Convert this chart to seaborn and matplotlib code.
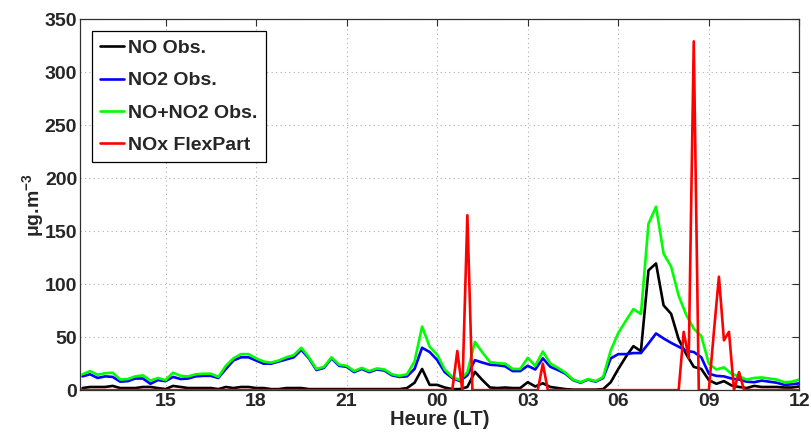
import numpy as np
import pandas as pd
import seaborn as sns
import matplotlib.pyplot as plt

# Observations: pas de 15 min, de 12h15 a 12h00 le lendemain (une ligne = une heure)
no2_obs = [13, 15, 11.5, 13,
           12.5, 8, 8.5, 11,
           11, 6, 9.5, 8.5,
           12.5, 10.5, 11, 13,
           13.5, 13.5, 11.5, 20,
           28, 31, 31, 28,
           25, 25, 27, 29,
           31, 38, 30, 19,
           21, 30, 23, 22,
           17, 20, 17, 19.5,
           18.5, 14, 12.5, 13,
           20, 40, 36, 28.5,
           17, 11.5, 8.5, 14,
           28.3, 26, 24, 23.5,
           22.5, 18, 18, 23,
           19.5, 30, 22, 19,
           15.5, 9.5, 7, 10,
           8, 11.5, 30, 34,
           34, 35, 35, 44,
           53.5, 48.8, 44.6, 41,
           37, 36, 31, 15.5,
           13.5, 13, 11, 10,
           8, 7.5, 9, 8,
           7, 5, 5.5, 6.5]

no_obs = [2, 3, 3, 3,
          4, 2, 2, 2,
          3, 3, 2, 1,
          4, 3, 2, 2,
          2, 2, 1, 3,
          2, 3, 3, 2,
          2, 1, 1, 2,
          2, 2, 1, 1,
          1, 1, 1, 1,
          1, 1, 1, 1,
          1, 1, 1, 2,
          7, 20, 5, 5,
          2.5, 1, 1, 3,
          17.3, 9.5, 2.5, 2,
          2.5, 2, 2, 7.5,
          3.5, 6.5, 3, 2,
          1, 0.5, 0.5, 0.5,
          0.5, 1, 7.5, 20,
          31.4, 41.5, 36.8, 113,
          119.5, 80, 72, 48,
          34, 22, 20, 9.5,
          6, 8.5, 4.5, 3,
          2, 4, 3, 3,
          3, 2.5, 2.5, 3.5]

# Modele FlexPart: pas de 10 min, de 12h10 a 12h00 le lendemain (une ligne = une heure)
nox_flexpart = [0, 0, 0, 0, 0, 0,
                0, 0, 0, 0, 0, 0,
                0, 0, 0, 0, 0, 0,
                0, 0, 0, 0, 0, 0,
                0, 0, 0, 0, 0, 0,
                0, 0, 0, 0, 0, 0,
                0, 0, 0, 0, 0, 0,
                0, 0, 0, 0, 0, 0,
                0, 0, 0, 0, 0, 0,
                0, 0, 0, 0, 0, 0,
                0, 0, 0, 0, 0, 0,
                0, 0, 0, 0, 0, 0,
                0, 0, 0, 37, 0, 165,
                0, 0, 0, 0, 0, 0,
                0, 0, 0, 0, 0, 0,
                0, 0, 25, 0, 0, 0,
                0, 0, 0, 0, 0, 0,
                0, 0, 0, 0, 0, 0,
                0, 0, 0, 0, 0, 0,
                0, 0, 0, 0, 0, 0,
                55, 30, 329, 0, 0, 0,
                55, 107, 47, 55, 0, 17,
                0, 0, 0, 0, 0, 0,
                0, 0, 0, 0, 0, 0]

tick_pos = [15, 18, 21, 24, 27, 30, 33, 36]
tick_labels = ['15', '18', '21', '00', '03', '06', '09', '12']

# heures decimales (24 = minuit)
t_obs = 12.25 + np.arange(len(no_obs)) / 4
t_mod = 12 + 10 / 60 + np.arange(len(nox_flexpart)) / 6

df_obs = pd.DataFrame({'heure': t_obs, 'NO': no_obs, 'NO2': no2_obs})
df_obs['NOx'] = df_obs['NO'] + df_obs['NO2']
df_mod = pd.DataFrame({'heure': t_mod, 'NOx': nox_flexpart})

sns.set_style('white')
plt.rcParams['font.family'] = ['Liberation Sans', 'DejaVu Sans']
plt.rcParams['font.weight'] = 'bold'
plt.rcParams['mathtext.fontset'] = 'custom'
plt.rcParams['mathtext.rm'] = 'Liberation Sans:bold'
plt.rcParams['mathtext.bf'] = 'Liberation Sans:bold'
plt.rcParams['mathtext.default'] = 'bf'

fig = plt.figure(figsize=(8.12, 4.34), dpi=100)
ax = fig.add_axes([0.0985, 0.101, 0.886, 0.855])

lw = 1.9
sns.lineplot(data=df_obs, x='heure', y='NO', color='black', lw=lw, label='NO Obs.', ax=ax)
sns.lineplot(data=df_obs, x='heure', y='NO2', color='blue', lw=lw, label='NO2 Obs.', ax=ax)
sns.lineplot(data=df_obs, x='heure', y='NOx', color='#00ff00', lw=lw, label='NO+NO2 Obs.', ax=ax)
sns.lineplot(data=df_mod, x='heure', y='NOx', color='red', lw=lw, label='NOx FlexPart', ax=ax)

ax.set_xlim(t_mod[0], 36)
ax.set_ylim(0, 350)
ax.set_xticks(tick_pos)
ax.set_xticklabels(tick_labels)
ax.set_yticks(np.arange(0, 351, 50))

ax.grid(True, linestyle=(0, (1, 3)), color='#b0b0b0', linewidth=0.8)
ax.tick_params(direction='in', top=True, right=True, length=5, width=0.8,
               color='#303030', labelsize=14, pad=2)
for lab in ax.get_xticklabels() + ax.get_yticklabels():
    lab.set_fontweight('bold')
for sp in ax.spines.values():
    sp.set_color('#303030')
    sp.set_linewidth(0.9)

ax.set_xlabel('Heure (LT)', fontsize=14.5, fontweight='bold', labelpad=0)
ax.set_ylabel('μg.m$^{-3}$', fontsize=14, fontweight='bold', labelpad=-1)

leg = ax.legend(loc='upper left', fontsize=14, frameon=True, fancybox=False,
                edgecolor='black', framealpha=1, handlelength=1.2,
                handletextpad=0.2, labelspacing=0.75, borderaxespad=0.6,
                borderpad=0.45)
leg.get_frame().set_linewidth(0.9)
for txt in leg.get_texts():
    txt.set_fontweight('bold')

fig.savefig('out.png', dpi=100)
